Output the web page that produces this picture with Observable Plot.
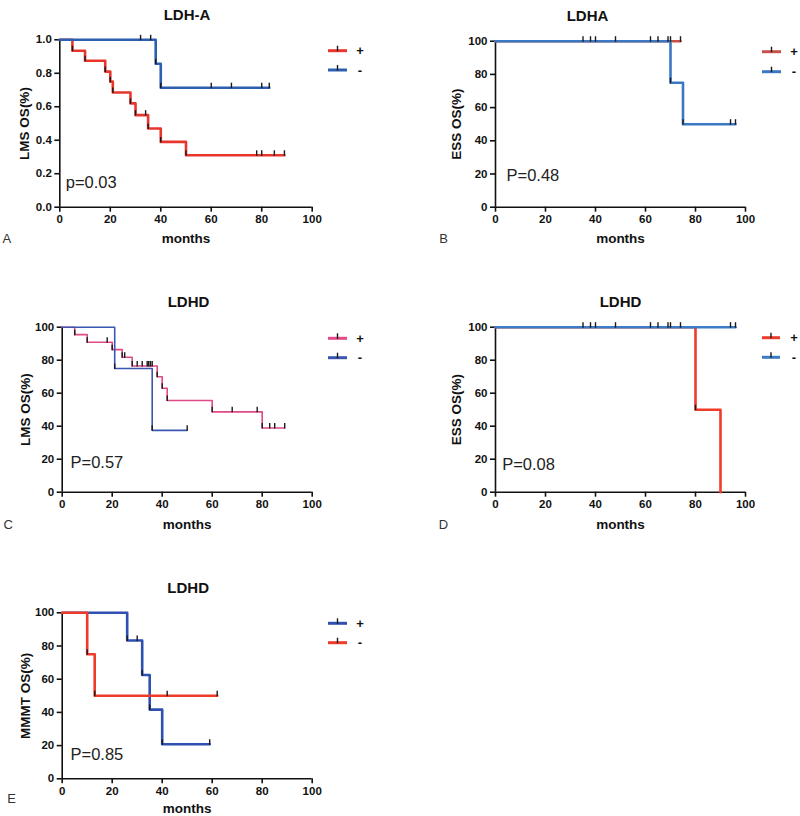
<!DOCTYPE html>
<html><head><meta charset="utf-8">
<script src="https://cdn.jsdelivr.net/npm/d3@7"></script>
<script src="https://cdn.jsdelivr.net/npm/@observablehq/plot@0.6"></script>
<style>
body{margin:0;background:#fff;}
#wrap{position:relative;width:800px;height:816px;font-family:"Liberation Sans",Arial,sans-serif;overflow:hidden;}
.panel{position:absolute;}
#legend{position:absolute;left:0;top:0;}
</style></head><body><div id="wrap"></div>
<script>
// ---------- DATA ----------
const xTicks = [0, 20, 40, 60, 80, 100];
const yTicksFrac = [0, 0.2, 0.4, 0.6, 0.8, 1.0];
const yTicksPct = [0, 20, 40, 60, 80, 100];

// Panel A: LDH-A, LMS OS
const aPlusTime = [0, 5, 10, 18, 20, 21, 28, 30, 35, 40, 50, 89];
const aPlusSurv = [1, 0.935, 0.875, 0.81, 0.75, 0.685, 0.62, 0.55, 0.47, 0.39, 0.31, 0.31];
const aPlusCens = [34, 78, 80, 85, 89];
const aMinusTime = [0, 38, 40, 83];
const aMinusSurv = [1, 0.857, 0.714, 0.714];
const aMinusCens = [32, 36, 60, 68, 80, 83];

// Panel B: LDHA, ESS OS
const bPlusTime = [0, 74];
const bPlusSurv = [100, 100];
const bPlusCens = [40, 65, 70, 74];
const bMinusTime = [0, 70, 75, 96];
const bMinusSurv = [100, 75, 50, 50];
const bMinusCens = [35, 38, 48, 62, 69, 94, 96];

// Panel C: LDHD, LMS OS
const cPlusTime = [0, 5, 10, 20, 24, 28, 38, 40, 42, 60, 80, 89];
const cPlusSurv = [100, 95.5, 90.9, 86.4, 81.8, 76.5, 70, 63, 55.6, 48.7, 38.9, 38.9];
const cPlusCens = [18, 25, 30, 32, 34, 34.6, 35.3, 36, 68, 78, 83, 85, 89];
const cMinusTime = [0, 21, 36, 50];
const cMinusSurv = [100, 75, 37.5, 37.5];
const cMinusCens = [50];

// Panel D: LDHD, ESS OS
const dPlusTime = [0, 80, 90];
const dPlusSurv = [100, 50, 0];
const dPlusCens = [];
const dMinusTime = [0, 96];
const dMinusSurv = [100, 100];
const dMinusCens = [35, 38, 40, 48, 62, 65, 69, 70, 74, 94, 96];

// Panel E: LDHD, MMMT OS
const ePlusTime = [0, 26, 32, 35, 40, 59];
const ePlusSurv = [100, 83.3, 62.5, 41.7, 20.8, 20.8];
const ePlusCens = [30, 59];
const eMinusTime = [0, 10, 13, 62];
const eMinusSurv = [100, 75, 50, 50];
const eMinusCens = [42, 62];

const groupLabels = ["+", "-"];

// ---------- PANELS ----------
const panels = [
  {left:0, top:0, width:400, height:250, frame:[59.3, 311.7, 39.3, 206.7],
   yMax:1, yTicks:yTicksFrac, yFormat:d3.format(".1f"),
   title:"LDH-A", titleDx:1, ylabel:"LMS OS(%)", ylabelDx:-35,
   p:"p=0.03", pDx:6, pDy:-24, letter:"A", letterDx:-53, letterDy:31.3, monthsDy:31.3,
   series:[
     {time:aPlusTime, surv:aPlusSurv, cens:aPlusCens, color:"#e8362c", width:2.6},
     {time:aMinusTime, surv:aMinusSurv, cens:aMinusCens, color:"#2d5fb0", width:2.6}],
   legend:{x1:328, x2:347, tx:360, ys:[50.7, 70]}},
  {left:400, top:0, width:400, height:250, frame:[495, 745, 40.7, 206.7],
   yMax:100, yTicks:yTicksPct, yFormat:d3.format("d"),
   title:"LDHA", titleDx:-33, ylabel:"ESS OS(%)", ylabelDx:-39,
   p:"P=0.48", pDx:11, pDy:-31, letter:"B", letterDx:-52, letterDy:31.3, monthsDy:31.6,
   series:[
     {time:bPlusTime, surv:bPlusSurv, cens:bPlusCens, color:"#c8504a", width:2.6},
     {time:bMinusTime, surv:bMinusSurv, cens:bMinusCens, color:"#3a78c4", width:2.6}],
   legend:{x1:762, x2:781, tx:794, ys:[51.7, 71.7]}},
  {left:0, top:270, width:400, height:270, frame:[61.7, 311.7, 326.7, 491.7],
   yMax:100, yTicks:yTicksPct, yFormat:d3.format("d"),
   title:"LDHD", titleDx:1.3, ylabel:"LMS OS(%)", ylabelDx:-36.7,
   p:"P=0.57", pDx:8.3, pDy:-29, letter:"C", letterDx:-54, letterDy:32.3, monthsDy:32.3,
   series:[
     {time:cPlusTime, surv:cPlusSurv, cens:cPlusCens, color:"#e04a86", width:1.6},
     {time:cMinusTime, surv:cMinusSurv, cens:cMinusCens, color:"#3a56b0", width:1.6}],
   legend:{x1:328, x2:347, tx:360, ys:[338.3, 357.7]}},
  {left:400, top:270, width:400, height:270, frame:[495, 745, 326.7, 491.7],
   yMax:100, yTicks:yTicksPct, yFormat:d3.format("d"),
   title:"LDHD", titleDx:0, ylabel:"ESS OS(%)", ylabelDx:-39,
   p:"P=0.08", pDx:6.7, pDy:-27.7, letter:"D", letterDx:-52, letterDy:32.3, monthsDy:32.3,
   series:[
     {time:dPlusTime, surv:dPlusSurv, cens:dPlusCens, color:"#ee3b2b", width:2.6},
     {time:dMinusTime, surv:dMinusSurv, cens:dMinusCens, color:"#3a7cc6", width:2.6}],
   legend:{x1:762, x2:780, tx:794, ys:[337.7, 357.3]}},
  {left:0, top:540, width:400, height:276, frame:[61.7, 311.7, 612.3, 778.3],
   yMax:100, yTicks:yTicksPct, yFormat:d3.format("d"),
   title:"LDHD", titleDx:1, ylabel:"MMMT OS(%)", ylabelDx:-36.7,
   p:"P=0.85", pDx:8.3, pDy:-24.3, letter:"E", letterDx:-50.7, letterDy:20, monthsDy:30,
   series:[
     {time:ePlusTime, surv:ePlusSurv, cens:ePlusCens, color:"#2f50b0", width:2.6},
     {time:eMinusTime, surv:eMinusSurv, cens:eMinusCens, color:"#ee3b2b", width:2.6}],
   legend:{x1:328, x2:347, tx:360, ys:[623.3, 642.7]}}
];

const tickSymbol = {draw(ctx){ ctx.moveTo(0, 0.5); ctx.lineTo(0, -5); }};

function survAt(s, t) {
  let v = s.surv[0];
  for (let i = 0; i < s.time.length; i++) if (s.time[i] <= t) v = s.surv[i];
  return v;
}

const wrap = document.getElementById("wrap");

panels.forEach(cfg => {
  const [fx0, fx1, fy0, fy1] = cfg.frame;
  const marks = [];
  // axis lines
  marks.push(Plot.ruleX([0], {stroke:"#111", strokeWidth:1.6}));
  marks.push(Plot.ruleY([0], {stroke:"#111", strokeWidth:1.6}));
  marks.push(Plot.axisX({ticks:xTicks, tickSize:5, tickPadding:3, stroke:"#111", strokeWidth:1.6, fontSize:11.5, fontWeight:"bold", label:null}));
  marks.push(Plot.axisY({ticks:cfg.yTicks, tickFormat:cfg.yFormat, tickSize:5, tickPadding:3, stroke:"#111", strokeWidth:1.6, fontSize:11.5, fontWeight:"bold", label:null}));
  // curves
  cfg.series.forEach(s => {
    const pts = s.time.map((t, i) => ({t, v:s.surv[i]}));
    marks.push(Plot.line(pts, {x:"t", y:"v", curve:"step-after", stroke:s.color, strokeWidth:s.width}));
  });
  // tick marks at events and censored times
  cfg.series.forEach(s => {
    const ev = s.time.map((t, i) => ({t, v:s.surv[i]})).filter((d, i) => i > 0 && s.surv[i] < s.surv[i-1] && s.surv[i] > 0);
    const ce = s.cens.map(t => ({t, v:survAt(s, t)}));
    marks.push(Plot.dot(ev.concat(ce), {x:"t", y:"v", symbol:tickSymbol, r:3, fill:"none", stroke:"#1a1a1a", strokeWidth:1.4}));
  });
  // texts
  marks.push(Plot.text([cfg.title], {frameAnchor:"top", lineAnchor:"middle", textAnchor:"middle", dx:cfg.titleDx, dy:-25, fontSize:15, fontWeight:"bold", fill:"#111"}));
  marks.push(Plot.text([cfg.ylabel], {frameAnchor:"left", lineAnchor:"middle", textAnchor:"middle", rotate:-90, dx:cfg.ylabelDx, fontSize:13.5, fontWeight:"bold", fill:"#111"}));
  marks.push(Plot.text(["months"], {frameAnchor:"bottom", lineAnchor:"middle", textAnchor:"middle", dy:cfg.monthsDy, fontSize:13.5, fontWeight:"bold", fill:"#111"}));
  marks.push(Plot.text([cfg.p], {frameAnchor:"bottom-left", lineAnchor:"middle", textAnchor:"start", dx:cfg.pDx, dy:cfg.pDy, fontSize:16.5, fontWeight:"normal", fill:"#222"}));
  marks.push(Plot.text([cfg.letter], {frameAnchor:"bottom-left", lineAnchor:"middle", textAnchor:"middle", dx:cfg.letterDx, dy:cfg.letterDy, fontSize:13, fontWeight:"normal", fill:"#333"}));

  const chart = Plot.plot({
    width: cfg.width, height: cfg.height,
    marginLeft: fx0 - cfg.left, marginRight: cfg.left + cfg.width - fx1,
    marginTop: fy0 - cfg.top, marginBottom: cfg.top + cfg.height - fy1,
    x: {domain:[0, 100]},
    y: {domain:[0, cfg.yMax]},
    style: {fontFamily:"'Liberation Sans', Arial, sans-serif", fontSize:"11px", color:"#111", background:"transparent", overflow:"visible"},
    marks
  });
  const div = document.createElement("div");
  div.className = "panel";
  div.style.left = cfg.left + "px";
  div.style.top = cfg.top + "px";
  div.appendChild(chart);
  wrap.appendChild(div);
});

// legends
const leg = d3.select(wrap).append("svg").attr("id", "legend").attr("width", 800).attr("height", 816)
  .style("font-family", "'Liberation Sans', Arial, sans-serif");
panels.forEach(cfg => {
  cfg.series.forEach((s, i) => {
    const y = cfg.legend.ys[i];
    const g = leg.append("g");
    g.append("line").attr("x1", cfg.legend.x1).attr("x2", cfg.legend.x2).attr("y1", y).attr("y2", y)
      .attr("stroke", s.color).attr("stroke-width", 3);
    const cx = (cfg.legend.x1 + cfg.legend.x2) / 2;
    g.append("line").attr("x1", cx).attr("x2", cx).attr("y1", y + 0.5).attr("y2", y - 5)
      .attr("stroke", "#1a1a1a").attr("stroke-width", 1.4);
    g.append("text").attr("x", cfg.legend.tx).attr("y", y).attr("dy", "0.35em")
      .attr("text-anchor", "middle").attr("font-size", 13).attr("font-weight", "bold").attr("fill", "#111")
      .text(groupLabels[i]);
  });
});
</script>
</body></html>
